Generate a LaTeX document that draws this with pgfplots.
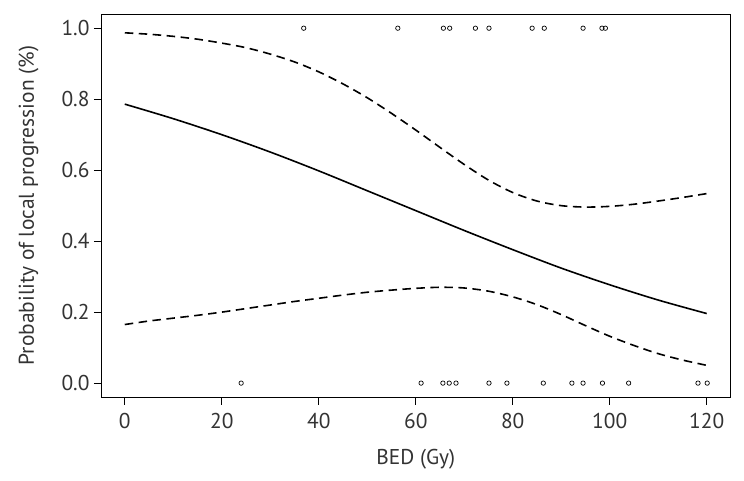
\documentclass[border=0pt]{standalone}
\usepackage{pgfplots}
\pgfplotsset{compat=1.18}
\usepackage{fontspec}
\setmainfont{PT Sans}
\begin{document}
\begin{tikzpicture}
\begin{axis}[
  at={(0,0)}, anchor=south west,
  scale only axis,
  width=628.5bp, height=383.3bp,
  xmin=-4.8, xmax=124.8, ymin=-0.04, ymax=1.04,
  axis line style={black, line width=0.9bp},
  xtick={0,20,40,60,80,100,120},
  ytick={0,0.2,0.4,0.6,0.8,1.0},
  yticklabels={0.0,0.2,0.4,0.6,0.8,1.0},
  xtick pos=bottom, ytick pos=left,
  tick align=outside,
  major tick length=7.5bp,
  tick style={black, line width=0.9bp},
  /pgf/number format/assume math mode=true,
  ticklabel style={font=\fontsize{21.5}{24}\selectfont, text=black!80},
  xticklabel style={yshift=-5bp},
  yticklabel style={xshift=-1bp},
  xlabel={BED (Gy)},
  ylabel={Probability of local progression (\%)},
  label style={font=\fontsize{21.5}{24}\selectfont, text=black!80},
  xlabel style={yshift=-14bp},
  ylabel style={yshift=16bp},
  clip=false,
]
% fitted probability
\addplot[black, line width=1.6bp, smooth] coordinates {
(0,0.786) (10,0.745) (20,0.700) (30,0.651) (40,0.598) (50,0.542) (60,0.486)
(70,0.430) (80,0.376) (90,0.324) (100,0.277) (110,0.234) (120,0.196)};
% upper bound
\addplot[black, line width=1.6bp, smooth, dash pattern=on 8.5bp off 5.5bp] coordinates {
(0,0.987) (5,0.983) (10,0.977) (15,0.969) (20,0.958) (25,0.945) (30,0.927)
(35,0.905) (40,0.877) (45,0.843) (50,0.804) (55,0.760) (60,0.713) (65,0.664)
(70,0.616) (75,0.572) (80,0.537) (85,0.513) (90,0.500) (95,0.496) (100,0.498)
(105,0.504) (110,0.513) (115,0.523) (120,0.534)};
% lower bound
\addplot[black, line width=1.6bp, smooth, dash pattern=on 8.5bp off 5.5bp] coordinates {
(0,0.165) (5,0.175) (10,0.183) (15,0.191) (20,0.200) (25,0.210) (30,0.220)
(35,0.230) (40,0.239) (45,0.248) (50,0.256) (55,0.262) (60,0.267) (65,0.270)
(70,0.268) (75,0.259) (80,0.243) (85,0.221) (90,0.193) (95,0.162) (100,0.132)
(105,0.106) (110,0.083) (115,0.065) (120,0.050)};
% observed events
\addplot[only marks, mark=o, mark size=2.2bp, mark options={line width=0.7bp, black}] coordinates {
(36.9,1) (56.3,1) (65.7,1) (67.0,1) (72.3,1) (75.1,1) (84.0,1) (86.5,1)
(94.5,1) (98.4,1) (99.1,1)};
\addplot[only marks, mark=o, mark size=2.2bp, mark options={line width=0.7bp, black}] coordinates {
(24.0,0) (61.1,0) (65.6,0) (66.9,0) (68.3,0) (75.1,0) (78.8,0) (86.3,0)
(92.2,0) (94.5,0) (98.5,0) (103.9,0) (118.2,0) (120.1,0)};
\end{axis}
\pgfresetboundingbox
\path (-101.5bp,-83.7bp) rectangle (642.5bp,397.3bp);
\end{tikzpicture}
\end{document}
